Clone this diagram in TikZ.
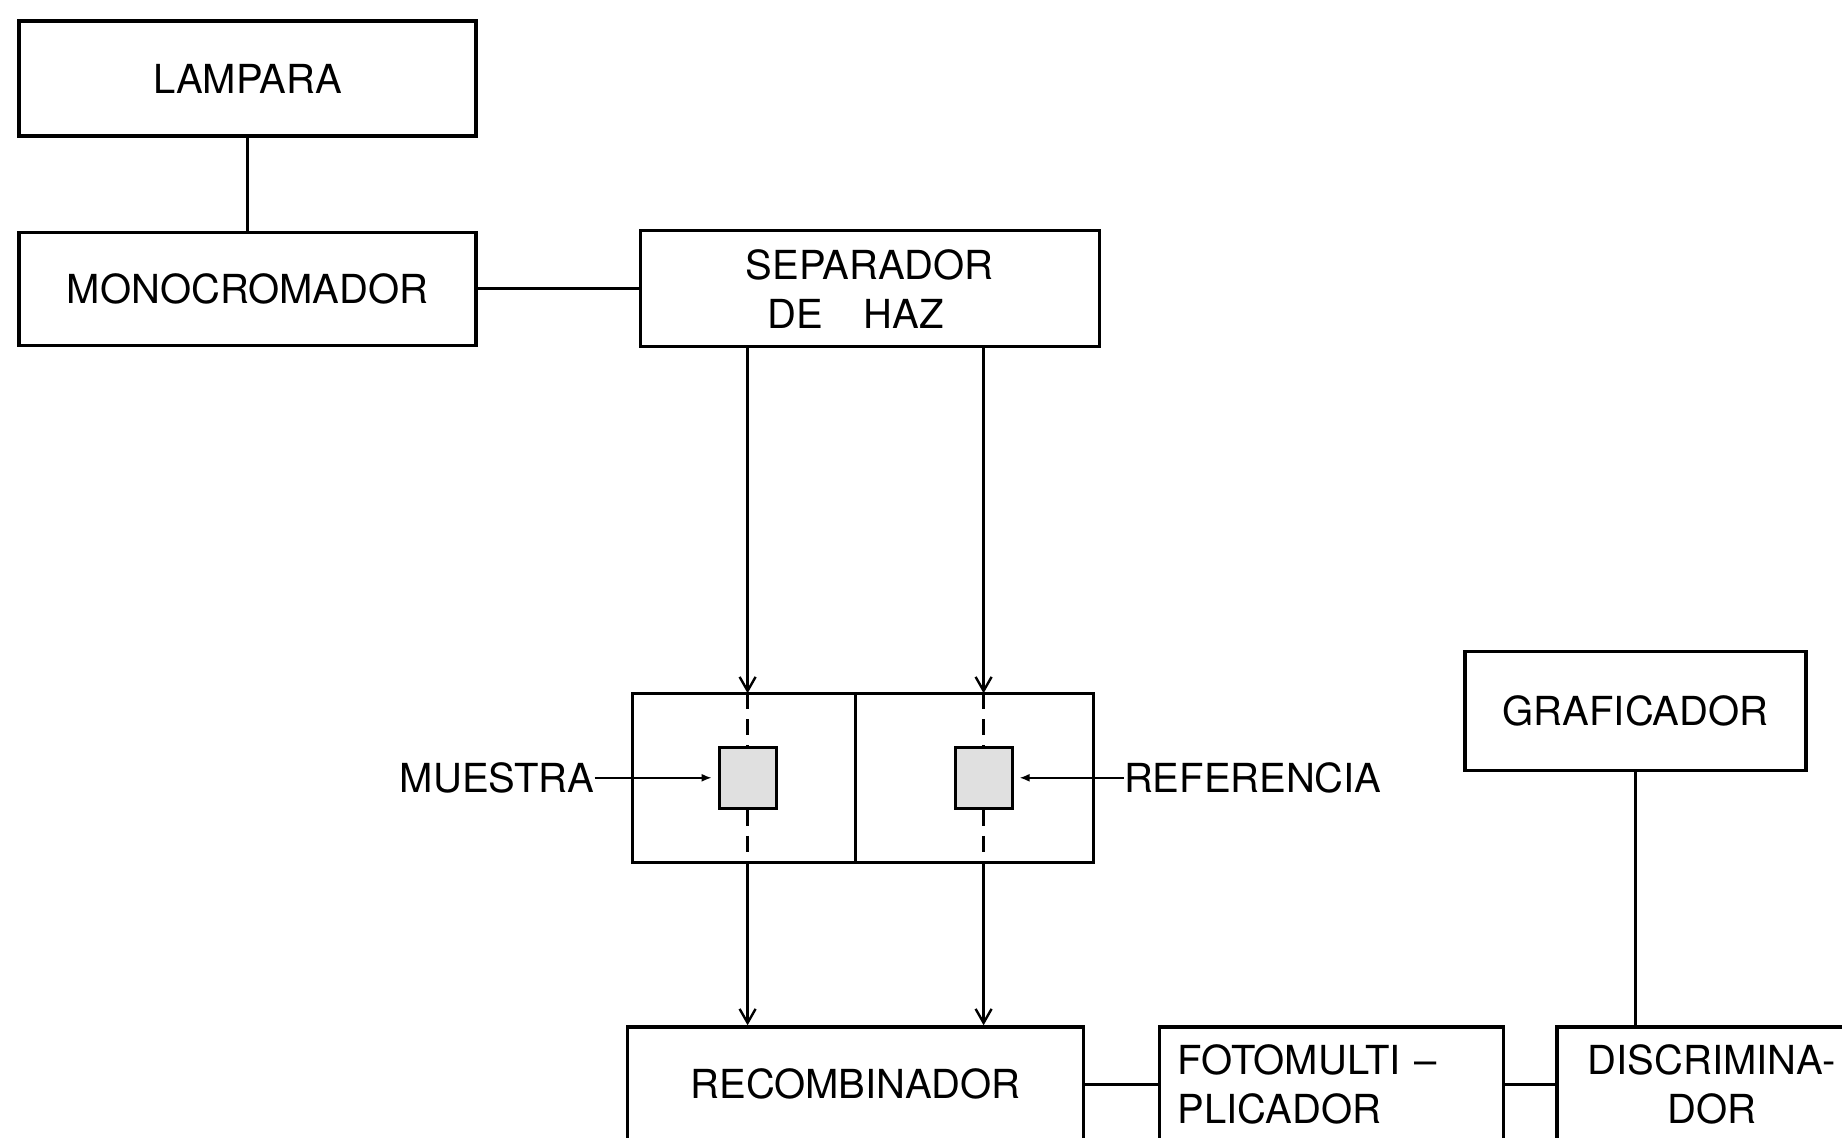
\documentclass[tikz,border=0pt]{standalone}
\usepackage{fontspec}
\setmainfont{TeX Gyre Heros}
\usepackage{tikz}
\usetikzlibrary{arrows.meta,positioning}
\tikzset{
  box/.style      = {rectangle, draw, line width=1.6pt, align=center,
                     font=\fontsize{20}{24.5}\selectfont, inner sep=4pt},
  cell/.style     = {rectangle, draw, line width=1.6pt, outer sep=0pt,
                     minimum height=84.5pt},
  cuvette/.style  = {rectangle, draw, line width=1.5pt, fill=black!12,
                     minimum width=28.5pt, minimum height=30.5pt, inner sep=0pt},
  link/.style     = {line width=1.2pt},
  beam/.style     = {-{Straight Barb[length=7pt,width=8pt]}, line width=1.2pt},
  beamdash/.style = {line width=1.4pt, dash pattern=on 8pt off 5pt},
  probe/.style    = {-{Latex[length=5pt,width=4pt]}, line width=0.8pt, shorten >=3pt},
  lbl/.style      = {font=\fontsize{20}{24.5}\selectfont, inner sep=0pt},
}

\begin{document}
\begin{tikzpicture}
\useasboundingbox (0,0) rectangle (921pt,-569pt);

% --- source and beam splitter
\node[box, minimum width=228.5pt, minimum height=57.5pt] (lampara) at (123.75pt,-39.25pt) {LAMPARA};
\node[box, minimum width=228.5pt, minimum height=56.5pt, below=46.5pt of lampara] (mono) {MONOCROMADOR};
\node[box, minimum width=229.5pt, minimum height=58pt, right=80.5pt of mono] (sep) {SEPARADOR\\DE\quad HAZ\hspace*{14pt}};

% --- sample compartment
\node[cell, minimum width=111.5pt, below=172.5pt of sep.south west, anchor=north west, xshift=-3pt] (lcell) {};
\node[cell, minimum width=119pt, right=0pt of lcell] (rcell) {};
\node[cuvette, xshift=1.75pt] (lsq) at (lcell.center) {};
\node[cuvette, xshift=4.5pt] (rsq) at (rcell.center) {};
\node[lbl, left=19pt of lcell] (muestra) {MUESTRA};
\node[lbl, right=15pt of rcell] (referencia) {REFERENCIA};

% --- detection chain
\node[box, minimum width=228pt, minimum height=57.5pt, below=81.5pt of lcell.south east, anchor=north] (recomb) {RECOMBINADOR};
\node[box, minimum width=172pt, minimum height=57.5pt, text width=154pt, align=left, inner xsep=9pt, right=36.5pt of recomb] (foto) {FOTOMULTI --\\PLICADOR};
\node[box, minimum width=155pt, minimum height=57.5pt, right=25pt of foto] (disc) {DISCRIMINA-\\DOR};
\node[box, minimum width=170.5pt, minimum height=59.5pt, above=126.5pt of disc.north west, anchor=south west, xshift=-46pt] (graf) {GRAFICADOR};

% --- connections
\draw[link] (lampara) -- (mono);
\draw[link] (mono) -- (sep);
\draw[beam] (sep.south -| lsq) -- (lcell.north -| lsq);
\draw[beam] (sep.south -| rsq) -- (rcell.north -| rsq);
\draw[beamdash] (lcell.north -| lsq) -- (lsq.north);
\draw[beamdash] (lsq.south) -- (lcell.south -| lsq);
\draw[beamdash] (rcell.north -| rsq) -- (rsq.north);
\draw[beamdash] (rsq.south) -- (rcell.south -| rsq);
\draw[beam] (lcell.south -| lsq) -- (recomb.north -| lsq);
\draw[beam] (rcell.south -| rsq) -- (recomb.north -| rsq);
\draw[probe] (muestra) -- (lsq);
\draw[probe] (referencia) -- (rsq);
\draw[link] (recomb) -- (foto);
\draw[link] (foto) -- (disc);
\draw[link] (graf) -- (graf.south |- disc.north);

\end{tikzpicture}
\end{document}
